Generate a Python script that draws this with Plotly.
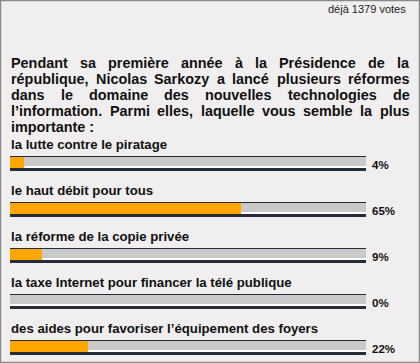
import plotly.graph_objects as go

# ---- data ----
vote_note = "déjà 1379 votes"
question_lines = [
    "Pendant sa première année à la Présidence de la",
    "république, Nicolas Sarkozy a lancé plusieurs réformes",
    "dans le domaine des nouvelles technologies de",
    "l’information. Parmi elles, laquelle vous semble la plus",
    "importante :",
]
options = [
    "la lutte contre le piratage",
    "le haut débit pour tous",
    "la réforme de la copie privée",
    "la taxe Internet pour financer la télé publique",
    "des aides pour favoriser l’équipement des foyers",
]
percentages = [4, 65, 9, 0, 22]

# ---- text metrics (Arial/Liberation Sans Bold advance widths, 1/1000 em) ----
BOLD_W = {
    " ": 278, ",": 278, ".": 278, ":": 333, "’": 278, "'": 238,
    "a": 556, "b": 611, "c": 556, "d": 611, "e": 556, "f": 333, "g": 611,
    "h": 611, "i": 278, "j": 278, "k": 556, "l": 278, "m": 889, "n": 611,
    "o": 611, "p": 611, "q": 611, "r": 389, "s": 556, "t": 333, "u": 611,
    "v": 556, "w": 778, "x": 556, "y": 556, "z": 500,
    "é": 556, "è": 556, "à": 556, "P": 667, "N": 722, "S": 667, "I": 278,
}

def word_width(w, size):
    return sum(BOLD_W.get(c, 556) for c in w) * size / 1000.0

FONT = "Liberation Sans, Arial, sans-serif"
TXT = "#111111"
DARK = "#262b3b"
GRAY = "#c9c9c9"
ORANGE = "#ffa600"
BG = "#f0eeee"

Q_SIZE = 14.4
TEXT_LEFT, TEXT_RIGHT = 11, 409.5
line_y0, line_step = 63, 16
bar_top0, bar_step = 155.5, 46

n = len(options)
tops = [bar_top0 + bar_step * i for i in range(n)]
full = [100] * n

fig = go.Figure()

def layer(x, top_off, bot_off, color):
    fig.add_trace(go.Bar(
        x=x, y=[t + (top_off + bot_off) / 2 for t in tops],
        width=bot_off - top_off, orientation="h", base=0,
        marker=dict(color=color, line=dict(width=0)),
        xaxis="x2", yaxis="y", hoverinfo="skip", showlegend=False,
    ))

layer(full, 0, 15, DARK)
layer(full, 1, 12, "#ffffff")
layer(full, 1, 10.5, GRAY)
layer(percentages, 1, 12, ORANGE)

ann = []
ann.append(dict(x=406, y=9, xref="x", yref="y", text=vote_note, showarrow=False,
                xanchor="right", yanchor="middle", borderpad=0, borderwidth=0,
                font=dict(family=FONT, size=11, color="#222222")))

# justified paragraph (last line left aligned)
for li, line in enumerate(question_lines):
    words = line.split(" ")
    widths = [word_width(w, Q_SIZE) for w in words]
    last = li == len(question_lines) - 1
    if len(words) > 1 and not last:
        gap = (TEXT_RIGHT - TEXT_LEFT - sum(widths)) / (len(words) - 1)
    else:
        gap = word_width(" ", Q_SIZE)
        words, widths = [line], [word_width(line, Q_SIZE)]
    x = TEXT_LEFT
    for w, wd in zip(words, widths):
        ann.append(dict(x=x, y=line_y0 + li * line_step, xref="x", yref="y",
                        text="<b>" + w + "</b>", showarrow=False,
                        xanchor="left", yanchor="middle", borderpad=0, borderwidth=0,
                        font=dict(family=FONT, size=Q_SIZE, color=TXT)))
        x += wd + gap

for i, (lab, p) in enumerate(zip(options, percentages)):
    ann.append(dict(x=10.5, y=tops[i] - 11, xref="x", yref="y",
                    text="<b>" + lab + "</b>", showarrow=False,
                    xanchor="left", yanchor="middle", borderpad=0, borderwidth=0,
                    font=dict(family=FONT, size=13.2, color=TXT)))
    ann.append(dict(x=372, y=tops[i] + 9.5, xref="x", yref="y",
                    text="<b>%d%%</b>" % p, showarrow=False,
                    xanchor="left", yanchor="middle", borderpad=0, borderwidth=0,
                    font=dict(family=FONT, size=11.5, color=TXT)))

fig.update_layout(
    width=420, height=363,
    margin=dict(l=0, r=0, t=0, b=0),
    paper_bgcolor=BG, plot_bgcolor=BG,
    barmode="overlay", bargap=0,
    xaxis=dict(range=[0, 420], domain=[0, 1], visible=False, fixedrange=True),
    xaxis2=dict(range=[0, 100], domain=[10 / 420, 366 / 420], anchor="y",
                visible=False, fixedrange=True),
    yaxis=dict(range=[363, 0], domain=[0, 1], visible=False, fixedrange=True),
    annotations=ann,
    shapes=[dict(type="rect", xref="paper", yref="paper", x0=0, y0=0, x1=1, y1=1,
                 line=dict(color="#8a8a8a", width=2.5), fillcolor="rgba(0,0,0,0)")],
    showlegend=False,
)

fig.write_html("out.html", config={"displayModeBar": False},
               post_script="document.body.style.margin='0';document.body.style.overflow='hidden';")
